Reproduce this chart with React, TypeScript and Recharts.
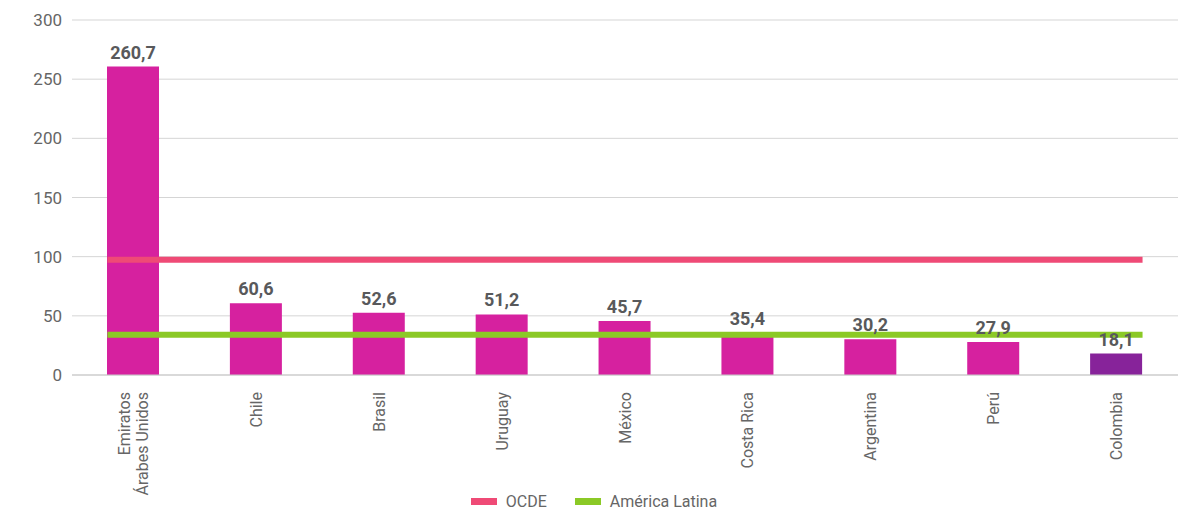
import React from "react";
import {
  ComposedChart, Bar, Cell, XAxis, YAxis, CartesianGrid,
  Legend, LabelList, ReferenceLine,
} from "recharts";

const countries = [
  "Emiratos\nÁrabes Unidos", "Chile", "Brasil", "Uruguay", "México",
  "Costa Rica", "Argentina", "Perú", "Colombia",
];
const values = [260.7, 60.6, 52.6, 51.2, 45.7, 35.4, 30.2, 27.9, 18.1];
const yTicks = [0, 50, 100, 150, 200, 250, 300];
const ocdeAvg = 97.5;
const latamAvg = 34;
const highlighted = "Colombia";

const FONT = "Roboto, 'Open Sans', sans-serif";
const BAR = "#d6219f";
const BAR_HL = "#87239a";
const OCDE = "#ef4a76";
const LATAM = "#8bc926";
const BAR_SIZE = 52;

const data = countries.map((name, i) => ({ name, value: values[i] }));

function CountryTick({ x, y, payload }: any) {
  const lines = String(payload.value).split("\n");
  const lh = 18;
  const start = -((lines.length - 1) * lh) / 2;
  return (
    <g transform={`translate(${x},${y + 15}) rotate(-90)`}>
      {lines.map((l, i) => (
        <text key={i} x={0} y={start + i * lh} dy="0.35em" textAnchor="end"
          fill="#666" fontSize={16} fontFamily={FONT}>
          {l}
        </text>
      ))}
    </g>
  );
}

// stretch the average lines so they run from edge to edge of the outer bars
const wideLine = (color: string) => (p: any) => (
  <line x1={p.x1 - BAR_SIZE / 2} y1={p.y1} x2={p.x2 + BAR_SIZE / 2} y2={p.y2}
    stroke={color} strokeWidth={6} />
);

function LegendBox() {
  const items = [
    { label: "OCDE", color: OCDE },
    { label: "América Latina", color: LATAM },
  ];
  return (
    <div style={{ display: "flex", justifyContent: "center", gap: 28, fontFamily: FONT, fontSize: 16, color: "#666" }}>
      {items.map((it) => (
        <div key={it.label} style={{ display: "flex", alignItems: "center", gap: 9 }}>
          <span style={{ width: 26, height: 7, background: it.color, display: "inline-block" }} />
          <span>{it.label}</span>
        </div>
      ))}
    </div>
  );
}

const fmt = (v: any) => Number(v).toFixed(1).replace(".", ",");

export default function App() {
  return (
    <div style={{ position: "absolute", left: 0, top: 0, background: "#fff" }}>
      <ComposedChart width={1184} height={516} data={data}
        margin={{ top: 20, right: 6, left: 10, bottom: 0 }}>
        <CartesianGrid vertical={false} stroke="#d5d5d5" />
        <XAxis dataKey="name" interval={0} tick={<CountryTick />} tickLine={false}
          axisLine={{ stroke: "#c8c8c8" }} height={117} tickSize={0} />
        <YAxis domain={[0, 300]} ticks={yTicks} width={62} axisLine={false} tickLine={false}
          tickSize={0} tickMargin={10}
          tick={{ fill: "#666", fontSize: 17, fontFamily: FONT }} />
        <Legend verticalAlign="bottom" height={24} content={() => <LegendBox />} />
        <ReferenceLine segment={[{ x: countries[0], y: ocdeAvg }, { x: countries[countries.length - 1], y: ocdeAvg }]}
          shape={wideLine(OCDE)} />
        <ReferenceLine segment={[{ x: countries[0], y: latamAvg }, { x: countries[countries.length - 1], y: latamAvg }]}
          shape={wideLine(LATAM)} />
        <Bar dataKey="value" barSize={BAR_SIZE} isAnimationActive={false}>
          {data.map((d) => (
            <Cell key={d.name} fill={d.name === highlighted ? BAR_HL : BAR} />
          ))}
          <LabelList dataKey="value" position="top" offset={8} formatter={fmt}
            style={{ fill: "#58595b", fontSize: 18, fontWeight: 700, fontFamily: FONT }} />
        </Bar>
      </ComposedChart>
    </div>
  );
}
